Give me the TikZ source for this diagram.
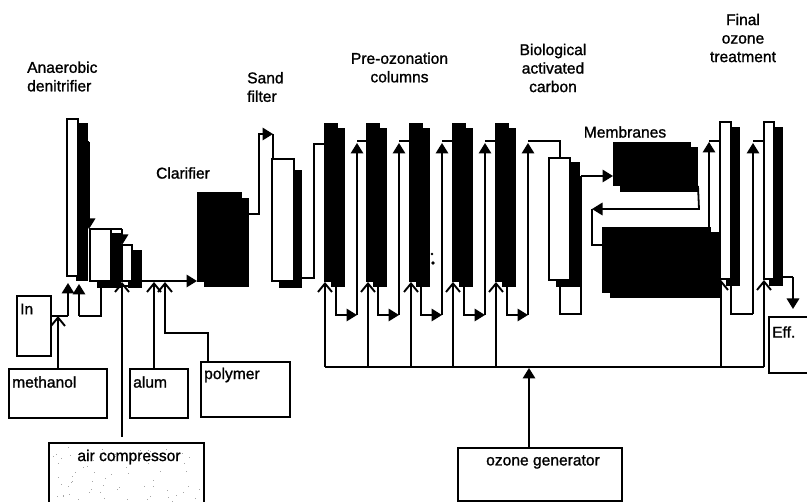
\documentclass[tikz,border=0pt]{standalone}
\usepackage{fontspec}
\setmainfont{Liberation Sans}
\newfontfamily\scanfont[FakeBold=1.2]{Liberation Sans}
\usetikzlibrary{arrows.meta,calc}
\tikzset{
  x=1pt,y=-1pt,
  wbox/.style={draw=black,fill=white,line width=1.8pt,rectangle,inner sep=0pt,outer sep=0pt},
  bbox/.style={draw=black,fill=black,line width=.5pt,rectangle,inner sep=0pt,outer sep=0pt},
  pipe/.style={draw=black,line width=1.8pt,line join=miter},
  fillhead/.style={-{Triangle[length=10.5pt,width=12.5pt]}},
  openhead/.style={-{Straight Barb[length=8.5pt,width=14pt,line width=1.9pt]}},
  lab/.style={font=\scanfont\fontsize{15.6}{18.5}\selectfont,align=center,inner sep=0pt,text=black},
  leftlab/.style={font=\scanfont\fontsize{15.6}{18.5}\selectfont,align=left,anchor=west,inner sep=0pt,text=black},
  tag/.style={font=\scanfont\fontsize{15.6}{18.5}\selectfont,anchor=west,inner sep=0pt,text=black}
}
% \rnode{style}{name}{x1}{y1}{x2}{y2}
\newcommand{\rnode}[6]{%
  \pgfmathsetmacro{\cxx}{(#3+#5)/2}\pgfmathsetmacro{\cyy}{(#4+#6)/2}%
  \pgfmathsetmacro{\wxx}{#5-#3}\pgfmathsetmacro{\hyy}{#6-#4}%
  \node[#1,minimum width=\wxx pt,minimum height=\hyy pt] (#2) at (\cxx,\cyy) {};}
\begin{document}
\begin{tikzpicture}
\useasboundingbox (0,0) rectangle (807,502);
\clip (0,0) rectangle (807,502);
\fill[white] (0,0) rectangle (807,502);

% Anaerobic denitrifier stages
\rnode{bbox}{a1s}{76}{123}{87}{280}
\rnode{wbox}{a1}{67}{119}{78}{276}
\rnode{bbox}{a2s}{97}{233}{120}{287}
\rnode{wbox}{a2}{90}{229}{111}{281}
\rnode{bbox}{a3s}{128}{250}{141}{287}
\rnode{wbox}{a3}{122}{245}{132}{281}
% Clarifier
\rnode{bbox}{cls}{204}{198}{248}{286}
\rnode{bbox}{cl}{197}{192}{241}{281}
% Sand filter
\rnode{bbox}{sfs}{279}{170}{301}{287}
\rnode{wbox}{sf}{272}{159}{294}{281}
% Pre-ozonation columns
\foreach \n/\x in {1/324,2/366,3/409,4/452,5/495}{
  \pgfmathsetmacro{\xa}{\x+7}\pgfmathsetmacro{\xb}{\x+20}\pgfmathsetmacro{\xc}{\x+13}
  \rnode{bbox}{c\n s}{\xa}{128}{\xb}{286}
  \rnode{bbox}{c\n}{\x}{123}{\xc}{281}
}
% BAC
\rnode{bbox}{bas}{556}{162}{579}{286}
\rnode{wbox}{ba}{549}{158}{570}{280}
% Membranes
\rnode{bbox}{m1s}{620}{147}{697}{191}
\rnode{bbox}{m1}{613}{142}{690}{185}
\rnode{bbox}{m2s}{610}{232}{720}{297}
\rnode{bbox}{m2}{602}{227}{710}{292}
% Final ozone
\rnode{bbox}{o1s}{726}{127}{739}{285}
\rnode{wbox}{o1}{720}{122}{731}{279}
\rnode{bbox}{o2s}{769}{127}{782}{285}
\rnode{wbox}{o2}{764}{122}{774}{279}
% Chemical boxes
\rnode{wbox}{in}{17}{296}{51}{356}
\rnode{wbox}{me}{9}{369}{107}{418}
\rnode{wbox}{al}{130}{369}{188}{418}
\rnode{wbox}{po}{201}{362}{290}{417}
\rnode{wbox}{ac}{49}{443}{204}{515}
\rnode{wbox}{oz}{458}{448}{622}{501}
\rnode{wbox}{ef}{769}{317}{820}{373}
% speckle of the air compressor box
\pgfmathsetseed{7}
\foreach \i in {1,...,70}{
  \pgfmathsetmacro{\px}{52+149*rnd}\pgfmathsetmacro{\py}{446+55*rnd}
  \fill[black!35] (\px,\py) rectangle +(.9,.9);
}

% Anaerobic connectors
\coordinate (j1) at (89,142);
\draw[pipe] (a1s.east |- j1) -- (j1);
\draw[pipe,fillhead] (j1) -- (a2.north -| j1);
\draw[pipe] (a2.north west) -- (122,229);
\draw[pipe,fillhead] (122,229) -- (a3.north west);
\draw[pipe,line width=2.5pt] (97,286) -- (141,286);
\coordinate (j2) at (58,316);
\draw[pipe] (in.east |- j2) -- (68,316);
\draw[pipe,fillhead] (68,316) -- (68,283);
\draw[pipe,openhead] (me.north -| j2) -- (j2);
\draw[pipe] (a2s.south -| 101,0) -- (101,316) -- (79,316);
\draw[pipe,fillhead] (79,316) -- (79,284);
\draw[pipe,openhead] (ac.north -| 122,0) ++(0,-6) -- (122,282);
% to clarifier
\draw[pipe,fillhead] (a3s.east |- 0,281) -- (cl.west |- 0,281);
\draw[pipe,openhead] (al.north -| 154,0) -- (154,282);
\draw[pipe,openhead] (po.north -| 208,0) -- (208,333) -- (165,333) -- (165,282);
% clarifier to sand filter
\draw[pipe] (cls.east |- 0,214) -- (259,214) -- (259,134) -- (262,134);
\draw[pipe,fillhead] (259,134) -- (273,134);
\draw[pipe] (273,134) -- (273,159);
% sand filter to columns
\draw[pipe] (sfs.east |- 0,278) -- (314,278) -- (314,144) -- (c1.west |- 0,144);
% pre-ozonation loops
\foreach \n/\m/\xo/\xu in {1/2/336/357,2/3/378/399,3/4/421/442,4/5/464/485}{
  \draw[pipe,fillhead] (\xo,286) -- (\xo,315) -- (\xu,315);
  \draw[pipe,fillhead] (\xu,315) -- (\xu,143);
  \draw[pipe] (\xu,141) -- (c\m.west |- 0,141);
}
\draw[pipe,fillhead] (507,286) -- (507,315) -- (528,315);
\draw[pipe,fillhead] (528,315) -- (528,143);
\draw[pipe] (528,141) -- (560,141) -- (ba.north -| 560,0);
% BAC to membranes
\draw[pipe] (bas.south -| 560,0) -- (560,314) -- (581,314) -- (581,176);
\draw[pipe,fillhead] (581,176) -- (m1.west |- 0,176);
% membrane stages
\draw[pipe] (698,186) -- (699,209) -- (605,209);
\draw[pipe,fillhead] (640,209) -- (592,209);
\draw[pipe] (592,209) -- (592,245) -- (m2.west |- 0,245);
% to final ozone
\draw[pipe,fillhead] (709,227) -- (709,142);
\draw[pipe] (709,141) -- (o1.west |- 0,141);
\draw[pipe] (731,285) -- (731,314) -- (753,314);
\draw[pipe,fillhead] (753,314) -- (753,143);
\draw[pipe] (753,141) -- (o2.west |- 0,141);
\coordinate (j3) at (793,277);
\draw[pipe] (o2s.east |- j3) -- (j3);
\draw[pipe,fillhead] (j3) -- (793,309);
% ozone bus
\draw[pipe] (325,367) -- (764,367);
\foreach \x in {325,368,411,453,496}{
  \draw[pipe,openhead] (\x,367) -- (\x,282);
}
\draw[pipe,openhead] (721,367) -- (721,280);
\draw[pipe,openhead] (764,367) -- (764,280);
\draw[pipe,fillhead] (oz.north -| 529,0) -- (529,368);
% stray specks
\fill[black] (432,254) circle (1.4) (433,263) circle (1.8);

% Labels
\node[leftlab] (t1) at (27,76.5) {Anaerobic\\denitrifier};
\node[leftlab] (t2) at (247,87) {Sand\\filter};
\node[lab] (t3) at (399.5,67.5) {Pre-ozonation\\columns};
\node[lab] (t4) at (553,68) {Biological\\activated\\carbon};
\node[lab] (t5) at (625,132) {Membranes};
\node[lab] (t6) at (743,38) {Final\\ozone\\treatment};
\node[lab] (t7) at (183,173) {Clarifier};
\node[tag] at (20,309) {In};
\node[tag] at (12,382) {methanol};
\node[tag] at (133,382) {alum};
\node[tag] at (204,375) {polymer};
\node[lab] at (129,457) {air compressor};
\node[lab] at (543,462) {ozone generator};
\node[tag] at (772,332) {Eff.};
\end{tikzpicture}
\end{document}
